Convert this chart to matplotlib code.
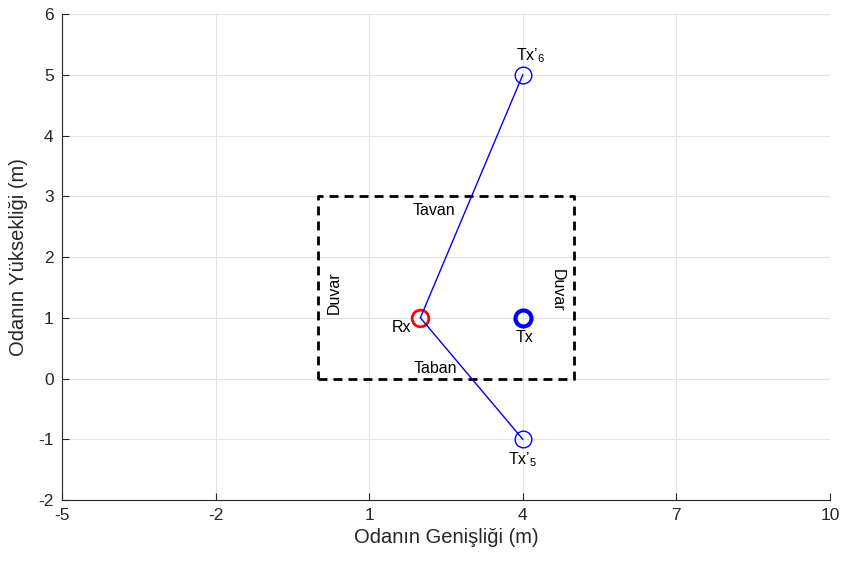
import matplotlib
matplotlib.use("Agg")
import matplotlib.pyplot as plt

plt.rcParams['font.family'] = ['Liberation Sans', 'DejaVu Sans']
plt.rcParams['mathtext.fontset'] = 'custom'
plt.rcParams['mathtext.rm'] = 'Liberation Sans'
plt.rcParams['mathtext.it'] = 'Liberation Sans'
plt.rcParams['axes.unicode_minus'] = False

# Room outline (walls, floor, ceiling)
room_x = [0, 5, 5, 0, 0]
room_y = [0, 0, 3, 3, 0]

# Receiver, transmitter and image transmitters
rx = (2, 1)
tx = (4, 1)
tx_images = {"6": (4, 5), "5": (4, -1)}

x_ticks = [-5, -2, 1, 4, 7, 10]
y_ticks = [-2, -1, 0, 1, 2, 3, 4, 5, 6]

fig = plt.figure(figsize=(8.41, 5.62), dpi=100)
ax = fig.add_axes([0.0737, 0.1103, 0.9132, 0.8647])

ax.plot(room_x, room_y, color='black', linestyle=(0, (3.2, 2.2)), linewidth=2, zorder=2)

blue = '#0000ff'
ax.plot(*rx, marker='o', markersize=12, markerfacecolor='none',
        markeredgecolor='#ff0000', markeredgewidth=2, zorder=3)
ax.plot(*tx, marker='o', markersize=11.5, markerfacecolor='none',
        markeredgecolor=blue, markeredgewidth=3, zorder=3)
for key, (ix, iy) in tx_images.items():
    ax.plot(ix, iy, marker='o', markersize=12, markerfacecolor='none',
            markeredgecolor=blue, markeredgewidth=1, zorder=3)
    ax.plot([rx[0], ix], [rx[1], iy], color=blue, linewidth=1, zorder=4)

fs = 11.5
ax.text(4.15, 5.32, "Tx’$_{\\mathregular{6}}$", ha='center', va='center', fontsize=fs)
ax.text(4.0, -1.33, "Tx’$_{\\mathregular{5}}$", ha='center', va='center', fontsize=fs)
ax.text(1.64, 0.84, "Rx", ha='center', va='center', fontsize=fs)
ax.text(4.04, 0.67, "Tx", ha='center', va='center', fontsize=fs)
ax.text(2.27, 2.77, "Tavan", ha='center', va='center', fontsize=fs)
ax.text(2.29, 0.16, "Taban", ha='center', va='center', fontsize=fs)
ax.text(0.31, 1.42, "Duvar", ha='center', va='center', rotation=90, fontsize=fs)
ax.text(4.67, 1.45, "Duvar", ha='center', va='center', rotation=-90, fontsize=fs)

ax.set_xlim(-5, 10)
ax.set_ylim(-2, 6)
ax.set_xticks(x_ticks)
ax.set_yticks(y_ticks)
ax.grid(True, color='#e3e3e3', linewidth=0.8)
ax.set_axisbelow(True)

for side in ('top', 'right'):
    ax.spines[side].set_visible(False)
for side in ('left', 'bottom'):
    ax.spines[side].set_color('#262626')
    ax.spines[side].set_linewidth(0.8)
ax.tick_params(direction='in', length=5, width=0.8, colors='#262626',
               labelsize=12.5, pad=6)

ax.set_xlabel("Odanın Genişliği (m)", fontsize=14.5, color='#262626', labelpad=3)
ax.set_ylabel("Odanın Yüksekliği (m)", fontsize=14.5, color='#262626', labelpad=7)

fig.savefig("out.png", dpi=100)
